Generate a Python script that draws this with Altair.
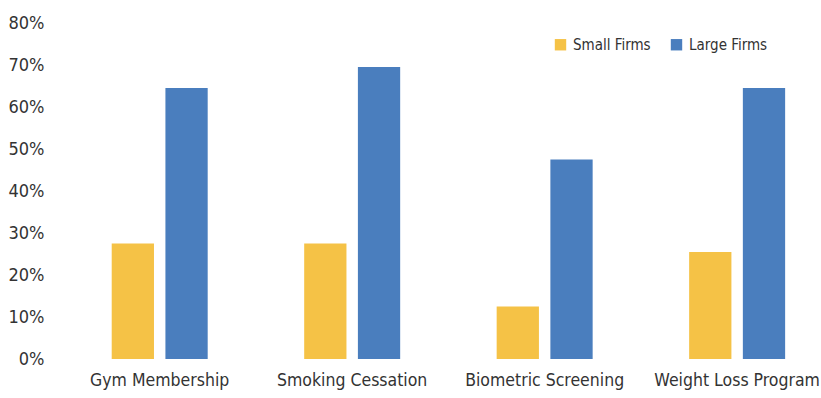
import altair as alt
import pandas as pd

programs = ["Gym Membership", "Smoking Cessation", "Biometric Screening", "Weight Loss Program"]
small_firms = [27.5, 27.5, 12.5, 25.5]
large_firms = [64.5, 69.5, 47.5, 64.5]
series = ["Small Firms", "Large Firms"]
colors = ["#F5C246", "#4A7EBE"]
y_ticks = [0, 10, 20, 30, 40, 50, 60, 70, 80]

rows = []
for p, s, l in zip(programs, small_firms, large_firms):
    rows.append({"program": p, "firm": series[0], "pct": s})
    rows.append({"program": p, "firm": series[1], "pct": l})
df = pd.DataFrame(rows)

FONT = "DejaVu Sans Condensed, Liberation Sans Narrow, sans-serif"

chart = (
    alt.Chart(df)
    .mark_bar()
    .encode(
        x=alt.X(
            "program:N",
            sort=programs,
            title=None,
            scale=alt.Scale(paddingInner=0.5013, paddingOuter=0.2197, align=0.635),
            axis=alt.Axis(
                labelAngle=0, domain=False, ticks=False, labelPadding=12,
                labelFontSize=17.5, labelFont=FONT, labelColor="#333333",
                labelLimit=300,
            ),
        ),
        xOffset=alt.XOffset(
            "firm:N", sort=series,
            scale=alt.Scale(paddingInner=0.213, paddingOuter=0),
        ),
        y=alt.Y(
            "pct:Q",
            title=None,
            scale=alt.Scale(domain=[0, 80], nice=False),
            axis=alt.Axis(
                values=y_ticks, labelExpr="datum.value + '%'", domain=False,
                ticks=False, grid=False, labelPadding=14, labelFontSize=18,
                labelFont=FONT, labelColor="#333333",
            ),
        ),
        color=alt.Color(
            "firm:N",
            sort=series,
            scale=alt.Scale(domain=series, range=colors),
            legend=alt.Legend(
                title=None, orient="none", direction="horizontal",
                legendX=495, legendY=14, symbolType="square", symbolSize=130,
                symbolStrokeWidth=0, labelFontSize=15, labelFont=FONT,
                labelColor="#333333", columnPadding=18, labelOffset=5,
            ),
        ),
    )
    .properties(
        width=758,
        height=336,
        background="white",
        autosize=alt.AutoSizeParams(type="none"),
        padding={"left": 58, "top": 23, "right": 5, "bottom": 39},
    )
    .configure_view(stroke=None, strokeWidth=0)
)

chart.save("out.html", embed_options={"renderer": "svg", "actions": False})
